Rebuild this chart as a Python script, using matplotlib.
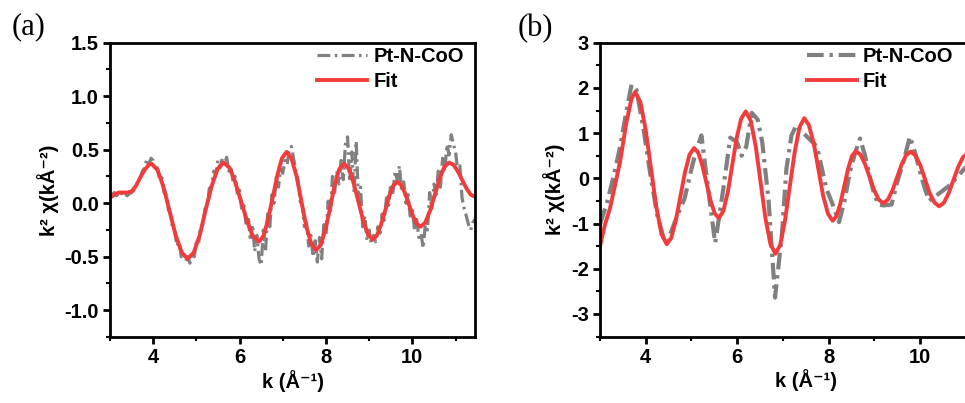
import numpy as np
import matplotlib
matplotlib.use("Agg")
import matplotlib.pyplot as plt
from matplotlib.ticker import MultipleLocator, FixedLocator

# ---------------- data ----------------
# Panel (a)
k_data_a = np.round(np.arange(3.0, 11.451, 0.05), 2)
chi_data_a = [
    0.06, 0.08, 0.10, 0.07, 0.09, 0.11, 0.06, 0.08, 0.07, 0.09, 0.10,
    0.12, 0.16, 0.22, 0.24, 0.30, 0.33, 0.41, 0.36, 0.42,
    0.40, 0.30, 0.33, 0.22, 0.24, 0.10, 0.08, -0.06, -0.10, -0.24, -0.26, -0.40, -0.36, -0.50, -0.47, -0.54, -0.50,
    -0.56, -0.45, -0.50, -0.36, -0.38, -0.22, -0.20, -0.05, -0.02, 0.14, 0.15, 0.30, 0.27, 0.40, 0.33, 0.42,
    0.36, 0.43, 0.30, 0.34, 0.20, 0.25, 0.08, 0.12, -0.06, -0.02, -0.20, -0.12, -0.35, -0.20, -0.45, -0.30, -0.52,
    -0.58, -0.25, -0.45, -0.10, -0.22, 0.08, 0.00, 0.25, 0.15, 0.32, 0.28, 0.40, 0.36,
    0.50, 0.53, 0.42, 0.30, 0.22, 0.02, -0.02, -0.22, -0.18, -0.40, -0.30, -0.50, -0.35,
    -0.55, -0.32, -0.52, -0.20, -0.30, 0.02, -0.10, 0.25, 0.10, 0.30, 0.18, 0.40, 0.22,
    0.55, 0.62, 0.20, 0.48, 0.10, 0.58, 0.05, 0.15, -0.22, -0.12, -0.35, -0.25, -0.38,
    -0.30, -0.36, -0.22, -0.28, -0.10, -0.16, 0.05, -0.02, 0.18, 0.10, 0.30, 0.22,
    0.35, 0.12, 0.20, 0.00, 0.08, -0.12, -0.05, -0.25, -0.15, -0.32, -0.28,
    -0.42, -0.20, -0.25, 0.10, -0.05, 0.18, 0.08, 0.30, 0.15, 0.42, 0.30, 0.55, 0.45,
    0.64, 0.55, 0.48, 0.30, 0.35, 0.05, -0.05, -0.12, -0.20, -0.25, -0.18, -0.15,
]
k_fit_a = [3.0, 3.1, 3.2, 3.3, 3.4, 3.5, 3.6, 3.7, 3.8, 3.9, 3.96, 4.10, 4.24, 4.38, 4.52,
           4.66, 4.80, 4.94, 5.08, 5.21, 5.35, 5.49, 5.63, 5.77, 5.90, 6.04, 6.18, 6.31,
           6.45, 6.56, 6.66, 6.77, 6.88, 6.98, 7.09, 7.20, 7.32, 7.43, 7.54, 7.66, 7.77,
           7.88, 7.99, 8.10, 8.20, 8.31, 8.42, 8.53, 8.64, 8.75, 8.86, 8.97, 9.08, 9.18,
           9.27, 9.37, 9.46, 9.56, 9.65, 9.74, 9.83, 9.92, 10.01, 10.10, 10.19, 10.30,
           10.41, 10.52, 10.63, 10.74, 10.85, 10.95, 11.05, 11.15, 11.25, 11.35, 11.45]
chi_fit_a = [0.05, 0.08, 0.10, 0.10, 0.10, 0.11, 0.16, 0.24, 0.31, 0.36, 0.37, 0.31, 0.15,
             -0.075, -0.30, -0.46, -0.52, -0.46, -0.295, -0.07, 0.155, 0.32, 0.38, 0.33,
             0.195, 0.01, -0.175, -0.31, -0.36, -0.30, -0.15, 0.06, 0.27, 0.42, 0.48, 0.42,
             0.25, 0.02, -0.21, -0.38, -0.44, -0.39, -0.24, -0.035, 0.17, 0.32, 0.37, 0.32,
             0.19, 0.015, -0.16, -0.29, -0.34, -0.30, -0.205, -0.07, 0.065, 0.164, 0.20,
             0.17, 0.095, -0.01, -0.115, -0.19, -0.22, -0.18, -0.07, 0.08, 0.23, 0.34, 0.38,
             0.36, 0.30, 0.22, 0.14, 0.08, 0.06]

# Panel (b)
k_data_b = [3.0, 3.15, 3.3, 3.45, 3.58, 3.69, 3.8, 3.95, 4.1, 4.25, 4.4, 4.48, 4.55, 4.7,
            4.85, 5.0, 5.1, 5.22, 5.3, 5.4, 5.52, 5.6, 5.7, 5.85, 6.0, 6.1, 6.2, 6.32, 6.45,
            6.55, 6.69, 6.83, 6.98, 7.08, 7.19, 7.3, 7.45, 7.6, 7.75, 7.95, 8.1, 8.23, 8.35,
            8.47, 8.58, 8.69, 8.8, 8.91, 9.0, 9.09, 9.2, 9.38, 9.5, 9.64, 9.78, 9.9, 10.0,
            10.1, 10.2, 10.4, 10.66, 10.98, 11.1]
chi_data_b = [-1.02, -0.55, 0.05, 0.75, 1.5, 2.07, 1.95, 1.1, 0.1, -0.8, -1.35, -1.42, -1.2,
              -0.8, -0.45, 0.2, 0.6, 0.95, 0.3, -0.5, -1.43, -0.9, -0.22, 0.9, 0.8, 0.5, 0.7,
              1.45, 1.3, 0.8, -0.5, -2.64, -1.25, 0.22, 0.95, 1.18, 1.0, 0.85, 0.7, -0.22,
              -0.6, -0.97, -0.5, 0.15, 0.55, 0.88, 0.5, 0.0, -0.35, -0.58, -0.6, -0.58, -0.1,
              0.37, 0.92, 0.55, 0.15, -0.2, -0.5, -0.35, -0.15, 0.22, 0.3]
k_fit_b = [3.0, 3.11, 3.22, 3.33, 3.44, 3.58, 3.69, 3.77, 3.885, 4.00, 4.115, 4.23, 4.345,
           4.46, 4.56, 4.66, 4.76, 4.86, 4.96, 5.06, 5.15, 5.24, 5.33, 5.42, 5.51, 5.6, 5.70,
           5.80, 5.895, 5.99, 6.09, 6.19, 6.30, 6.41, 6.515, 6.62, 6.73, 6.84, 6.945, 7.05,
           7.155, 7.26, 7.365, 7.47, 7.57, 7.68, 7.78, 7.88, 7.99, 8.09, 8.175, 8.26, 8.345,
           8.43, 8.515, 8.6, 8.7, 8.8, 8.9, 9.0, 9.1, 9.2, 9.3, 9.4, 9.5, 9.6, 9.7, 9.8, 9.90,
           10.01, 10.11, 10.21, 10.32, 10.42, 10.525, 10.63, 10.735, 10.84, 10.945, 11.05]
chi_fit_b = [-1.50, -1.02, -0.66, -0.15, 0.37, 1.25, 1.76, 1.91, 1.684, 1.07, 0.225, -0.62,
             -1.234, -1.46, -1.317, -0.9275, -0.395, 0.1375, 0.527, 0.67, 0.566, 0.2825,
             -0.105, -0.4925, -0.776, -0.88, -0.722, -0.29, 0.30, 0.89, 1.322, 1.48, 1.269,
             0.6925, -0.095, -0.8825, -1.459, -1.67, -1.469, -0.92, -0.17, 0.58, 1.129, 1.33,
             1.178, 0.7625, 0.195, -0.3725, -0.788, -0.94, -0.837, -0.555, -0.17, 0.215,
             0.497, 0.60, 0.523, 0.3125, 0.025, -0.2625, -0.473, -0.55, -0.474, -0.265, 0.02,
             0.305, 0.514, 0.59, 0.509, 0.2875, -0.015, -0.3175, -0.539, -0.62, -0.542,
             -0.3275, -0.035, 0.2575, 0.472, 0.55]

series_labels = ["Pt-N-CoO", "Fit"]
panel_labels = ["(a)", "(b)"]
xlabel_text = "k (Å\u207b\u00b9)"
ylabel_text = "k\u00b2 χ(kÅ\u207b\u00b2)"

# ---------------- style ----------------
W, H = 965, 403
plt.rcParams['font.family'] = ['Liberation Sans', 'DejaVu Sans']
plt.rcParams['font.weight'] = 'bold'
fig = plt.figure(figsize=(W / 100, H / 100), dpi=100)

GRAY = '#808080'
RED = '#f23b3b'
FS = 14.5
dashdot = (0, (4.0, 1.4, 0.8, 1.4))


def style_axes(ax, minor_x, major_y, minor_y, fmt):
    for s in ax.spines.values():
        s.set_linewidth(2.0)
    ax.xaxis.set_major_locator(FixedLocator([4, 6, 8, 10]))
    ax.xaxis.set_minor_locator(MultipleLocator(minor_x))
    ax.yaxis.set_major_locator(MultipleLocator(major_y))
    ax.yaxis.set_minor_locator(MultipleLocator(minor_y))
    ax.tick_params(which='major', direction='out', length=5, width=2, labelsize=FS, pad=3)
    ax.tick_params(which='minor', direction='out', length=3, width=1.5)
    ax.yaxis.set_major_formatter(plt.FuncFormatter(fmt))
    for lab in ax.get_xticklabels() + ax.get_yticklabels():
        lab.set_fontweight('bold')
    ax.set_xlabel(xlabel_text, fontsize=FS, fontweight='bold', labelpad=2)
    ax.set_ylabel(ylabel_text, fontsize=FS, fontweight='bold', labelpad=4)


# Panel (a)
axa = fig.add_axes([110 / W, 1 - 337 / H, 365 / W, 294.3 / H])
axa.plot(k_data_a, chi_data_a, color=GRAY, lw=2.3, ls=dashdot, label=series_labels[0])
axa.plot(k_fit_a, chi_fit_a, color=RED, lw=2.8, label=series_labels[1])
axa.set_xlim(3.0, 11.45)
axa.set_ylim(-1.25, 1.5)
style_axes(axa, 1, 0.5, 0.25, lambda v, p: f"{v:.1f}")
axa.legend(loc='upper left', bbox_to_anchor=(0.567, 0.985), frameon=False,
           handlelength=2.5, handletextpad=0.3, labelspacing=0.3, borderpad=0,
           borderaxespad=0, prop={'size': FS, 'weight': 'bold'})
fig.text(12 / W, 1 - 27 / H, panel_labels[0], fontsize=22, family='Liberation Serif',
         fontweight='normal', va='center', ha='left')

# Panel (b)
axb = fig.add_axes([600 / W, 1 - 336.5 / H, 411.3 / W, 293.8 / H])
axb.plot(k_data_b, chi_data_b, color=GRAY, lw=3.0, ls=dashdot, label=series_labels[0])
axb.plot(k_fit_b, chi_fit_b, color=RED, lw=2.8, label=series_labels[1])
axb.set_xlim(3.0, 12.0)
axb.set_ylim(-3.5, 3.0)
style_axes(axb, 1, 1, 0.5, lambda v, p: f"{v:.0f}")
axb.legend(loc='upper left', bbox_to_anchor=(0.5026, 0.985), frameon=False,
           handlelength=2.5, handletextpad=0.3, labelspacing=0.3, borderpad=0,
           borderaxespad=0, prop={'size': FS, 'weight': 'bold'})
fig.text(518 / W, 1 - 29 / H, panel_labels[1], fontsize=22, family='Liberation Serif',
         fontweight='normal', va='center', ha='left')

fig.savefig('out.png', dpi=100)
